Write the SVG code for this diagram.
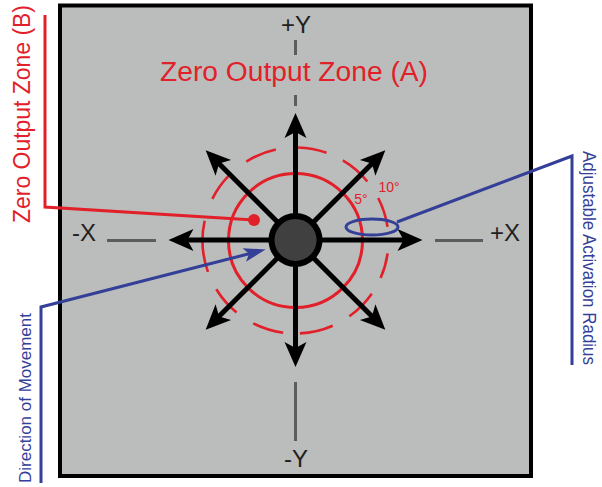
<svg xmlns="http://www.w3.org/2000/svg" width="602" height="487" viewBox="0 0 602 487">
<style>
.lbl{font-family:"Liberation Sans",Arial,sans-serif;fill:#231f20}
.red{font-family:"Liberation Sans",Arial,sans-serif;fill:#e2202a}
.blue{font-family:"Liberation Sans",Arial,sans-serif;fill:#343f98}
.axis{stroke:#5c5c5c;stroke-width:3;fill:none}
.arr{stroke:#000;stroke-width:5;fill:none;marker-end:url(#ah)}
.rc{stroke:#e2202a;stroke-width:3;fill:none}
.rd{stroke:#e2202a;stroke-width:2.6;fill:none}
.bl{stroke:#343f98;stroke-width:3;fill:none}
</style>
<defs>
<marker id="ah" markerUnits="userSpaceOnUse" markerWidth="25" markerHeight="22" refX="7" refY="11" orient="auto" overflow="visible">
<path d="M25,11 L0,0 L6,11 L0,22 Z" fill="#000"/>
</marker>
<marker id="bh" markerUnits="userSpaceOnUse" markerWidth="22" markerHeight="14" refX="8" refY="7" orient="auto" overflow="visible">
<path d="M22,7 L0,0 L5,7 L0,14 Z" fill="#343f98"/>
</marker>
</defs>
<rect x="60" y="5.5" width="471" height="470.5" fill="#bbbdbc" stroke="#000" stroke-width="4"/>
<g id="axes">
<line class="axis" x1="295.5" y1="40" x2="295.5" y2="55"/>
<line class="axis" x1="295.5" y1="95" x2="295.5" y2="106"/>
<line class="axis" x1="295.5" y1="382" x2="295.5" y2="441"/>
<line class="axis" x1="107" y1="240.5" x2="156" y2="240.5"/>
<line class="axis" x1="435" y1="240.5" x2="483" y2="240.5"/>
<text class="lbl" x="296" y="33" font-size="24" text-anchor="middle">+Y</text>
<text class="lbl" x="296" y="467" font-size="24" text-anchor="middle">-Y</text>
<text class="lbl" x="84" y="241" font-size="24" text-anchor="middle">-X</text>
<text class="lbl" x="505" y="241" font-size="24" text-anchor="middle">+X</text>
</g>
<g id="zone-b">
<circle cx="295.5" cy="240.5" r="67" class="rc"/>
<path class="rd" d="M246.36,161.54 A93,93 0 0 1 275.85,149.60 M298.10,147.54 A93,93 0 0 1 326.54,152.84 M342.84,160.46 A93,93 0 0 1 367.36,181.47 M378.21,198.00 A93,93 0 0 1 387.50,226.91 M387.60,253.44 A93,93 0 0 1 380.60,278.03 M371.78,293.71 A93,93 0 0 1 349.37,316.30 M332.73,325.73 A93,93 0 0 1 299.88,333.40 M283.20,332.68 A93,93 0 0 1 253.28,323.36 M236.59,312.46 A93,93 0 0 1 216.29,289.23 M207.94,271.85 A93,93 0 0 1 204.64,220.69 M212.34,198.85 A93,93 0 0 1 229.05,175.43"/>
<text class="red" x="361" y="204" font-size="14" text-anchor="middle">5°</text>
<text class="red" x="389" y="192" font-size="14" text-anchor="middle">10°</text>
</g>
<g id="connectors">
<line class="arr" x1="295.5" y1="240" x2="295.5" y2="131"/>
<line class="arr" x1="295.5" y1="240" x2="295.5" y2="349"/>
<line class="arr" x1="295.5" y1="240" x2="186.5" y2="240"/>
<line class="arr" x1="295.5" y1="240" x2="404.5" y2="240"/>
<line class="arr" x1="295.5" y1="240" x2="372.6" y2="162.9"/>
<line class="arr" x1="295.5" y1="240" x2="218.4" y2="162.9"/>
<line class="arr" x1="295.5" y1="240" x2="372.6" y2="317.1"/>
<line class="arr" x1="295.5" y1="240" x2="218.4" y2="317.1"/>
<polyline class="rc" points="45,15 45,207 254,220"/>
<polyline class="bl" points="41,483 41,307 252,253" marker-end="url(#bh)"/>
<polyline class="bl" points="572,365 572,156 397,222"/>
</g>
<g id="stick">
<circle cx="295.5" cy="240" r="24" fill="#404040" stroke="#000" stroke-width="6"/>
</g>
<g id="red-dot">
<circle cx="254" cy="220" r="6" fill="#e2202a"/>
</g>
<g id="radius-ellipse">
<ellipse cx="372" cy="227" rx="26" ry="8" class="bl" stroke-width="2.6"/>
</g>
<g id="zone-a">
<text class="red" x="294" y="81" font-size="27" text-anchor="middle" textLength="268" lengthAdjust="spacingAndGlyphs">Zero Output Zone (A)</text>
</g>
<g id="label-b">
<text class="red" transform="translate(30,114) rotate(-90)" font-size="23" text-anchor="middle" textLength="218" lengthAdjust="spacingAndGlyphs">Zero Output Zone (B)</text>
</g>
<g id="label-dir">
<text class="blue" transform="translate(31,398) rotate(-90)" font-size="17" text-anchor="middle" textLength="170" lengthAdjust="spacingAndGlyphs">Direction of Movement</text>
</g>
<g id="label-radius">
<text class="blue" transform="translate(583,258) rotate(90)" font-size="19" text-anchor="middle" textLength="214" lengthAdjust="spacingAndGlyphs">Adjustable Activation Radius</text>
</g>
</svg>
